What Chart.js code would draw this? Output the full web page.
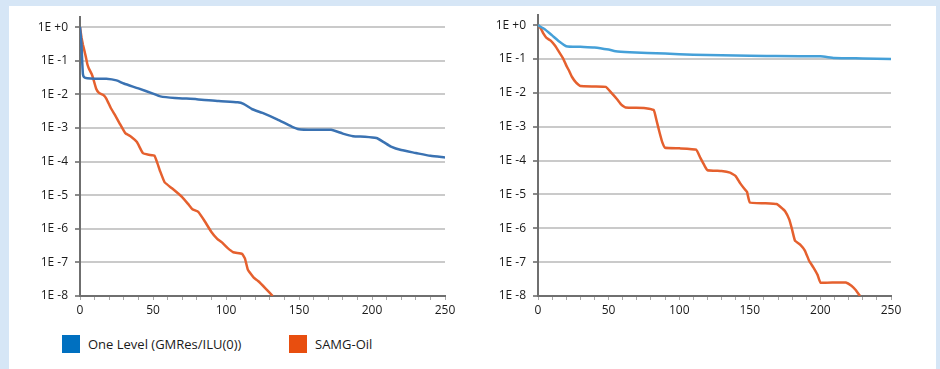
<!DOCTYPE html>
<html>
<head>
<meta charset="utf-8">
<script src="https://cdn.jsdelivr.net/npm/chart.js@4/dist/chart.umd.min.js"></script>
<style>
  html,body{margin:0;padding:0;}
  body{width:940px;height:369px;background:#d6e6f6;position:relative;overflow:hidden;font-family:"Open Sans","Noto Sans",sans-serif;}
  #panel{position:absolute;left:9px;top:6px;width:927px;height:363px;background:#ffffff;}
  #c1wrap{position:absolute;left:0;top:0;width:460px;height:321px;}
  #c2wrap{position:absolute;left:460px;top:0;width:446px;height:321px;}
  .leg{position:absolute;top:335px;height:18px;display:flex;align-items:center;font-size:13px;color:#1a1a1a;}
  .sw{width:18px;height:18px;margin-right:8px;}
</style>
</head>
<body>
<div id="panel"></div>
<div id="c1wrap"><canvas id="c1"></canvas></div>
<div id="c2wrap"><canvas id="c2"></canvas></div>
<div class="leg" style="left:62px;"><div class="sw" style="background:#0070c0"></div><span id="l1"></span></div>
<div class="leg" style="left:289px;"><div class="sw" style="background:#e84e0f"></div><span id="l2"></span></div>
<script>
// ---- data ----
const seriesNames = ['One Level (GMRes/ILU(0))', 'SAMG-Oil'];
const yTickValues = [1e-8, 1e-7, 1e-6, 1e-5, 1e-4, 1e-3, 1e-2, 1e-1, 1];
const yTickLabels = ['1E -8', '1E -7', '1E -6', '1E -5', '1E -4', '1E -3', '1E -2', '1E -1', '1E +0'];
const xTickLabels = ['0', '50', '100', '150', '200', '250'];

// left chart
const leftBlueX = [0,1,2,3,5,10,18,25,30,40,50,55,65,80,95,108,112,118,125,135,145,150,160,172,180,187,195,203,208,213,220,230,240,250];
const leftBlueY = [1.0,0.3,0.04,0.032,0.03,0.029,0.029,0.026,0.021,0.015,0.0105,0.0087,0.0078,0.0072,0.0063,0.0058,0.0052,0.0036,0.0028,0.0018,0.0011,0.00092,0.00088,0.00088,0.00068,0.00057,0.00055,0.0005,0.00038,0.00028,0.00022,0.00018,0.000148,0.000133];
const leftOrangeX = [0,1,2,3,4,5,6,8,9,11,13,16,18,21,24,27,31,35,39,43,47,51,53,55,58,63,70,74,77,81,85,90,94,97,101,105,111,113,115,119,122,127,132];
const leftOrangeY = [1.0,0.5,0.3,0.2,0.13,0.08,0.06,0.04,0.03,0.015,0.011,0.0095,0.0075,0.004,0.0024,0.0014,0.0007,0.00055,0.00038,0.00018,0.00016,0.00015,0.00009,0.00005,0.000024,0.000016,0.0000088,0.0000055,0.0000038,0.0000032,0.0000018,0.0000008,0.0000005,0.0000004,0.00000027,0.0000002,0.00000018,0.00000013,0.00000006,0.000000035,0.000000028,0.000000017,0.00000001];

// right chart
const rightBlueX = [0,5,10,15,20,30,40,50,55,65,90,110,150,200,210,230,250];
const rightBlueY = [1.0,0.75,0.5,0.33,0.24,0.23,0.22,0.19,0.17,0.16,0.145,0.135,0.125,0.12,0.108,0.104,0.1];
const rightOrangeX = [0,2,4,6,9,12,15,18,20,22,24,27,30,40,48,52,56,59,62,75,82,84,86,88,90,100,112,115,118,120,130,136,140,143,146,148,150,160,169,172,175,178,180,182,186,189,192,195,198,200,210,218,222,225,228];
const rightOrangeY = [1.0,0.8,0.55,0.42,0.35,0.25,0.16,0.1,0.065,0.045,0.03,0.02,0.016,0.0155,0.015,0.01,0.0065,0.0045,0.0037,0.0036,0.0031,0.0015,0.0007,0.00035,0.00024,0.00023,0.00021,0.00012,0.00007,0.000052,0.000049,0.000044,0.000035,0.000022,0.000015,0.000012,0.0000058,0.0000055,0.0000052,0.0000042,0.0000032,0.0000018,0.0000009,0.00000043,0.00000032,0.00000022,0.00000011,0.00000007,0.000000042,0.000000025,0.000000025,0.000000025,0.00000002,0.000000015,0.00000001];

document.getElementById('l1').textContent = seriesNames[0];
document.getElementById('l2').textContent = seriesNames[1];

function pts(xs, ys){ return xs.map((x,i)=>({x:x, y:ys[i]})); }

const FONT = {family:'"Open Sans","Noto Sans",sans-serif', size:12};
function makeChart(id, blueX, blueY, orX, orY, blueColor, yWidth, padTop){
  return new Chart(document.getElementById(id), {
    type:'line',
    data:{datasets:[
      {label:seriesNames[0], data:pts(blueX,blueY), borderColor:blueColor, borderWidth:2.5, pointRadius:0, tension:0.2, fill:false},
      {label:seriesNames[1], data:pts(orX,orY), borderColor:'#e5602e', borderWidth:2.5, pointRadius:0, tension:0.1, fill:false}
    ]},
    options:{
      responsive:true, maintainAspectRatio:false, animation:false,
      layout:{padding:{top:padTop, right:15, left:0, bottom:0}},
      plugins:{legend:{display:false}, tooltip:{enabled:false}},
      scales:{
        x:{type:'linear', min:0, max:250,
           border:{color:'#6f6f6f', width:2},
           grid:{drawOnChartArea:false, drawTicks:true, tickLength:4, color:'#a8a8a8', lineWidth:1},
           ticks:{stepSize:10, autoSkip:false, maxRotation:0, padding:3, color:'#1a1a1a', font:FONT,
             callback:(v)=>{ const i = xTickLabels.indexOf(String(v)); return i>=0 ? xTickLabels[i] : ''; }},
           afterFit:(s)=>{ s.height = 25; }
        },
        y:{type:'logarithmic', min:1e-8, max:2,
           border:{color:'#6f6f6f', width:2},
           grid:{color:'#cacaca', lineWidth:2, tickLength:5, tickColor:'#8a8a8a'},
           afterBuildTicks:(s)=>{ s.ticks = yTickValues.map(v=>({value:v})); },
           ticks:{padding:7, color:'#1a1a1a', font:FONT,
             callback:(v)=>{ const i = yTickValues.findIndex(t=>Math.abs(Math.log10(t)-Math.log10(v))<1e-6); return i>=0 ? yTickLabels[i] : ''; }},
           afterFit:(s)=>{ s.width = yWidth; }
        }
      }
    }
  });
}
makeChart('c1', leftBlueX, leftBlueY, leftOrangeX, leftOrangeY, '#3a72b2', 80, 17);
makeChart('c2', rightBlueX, rightBlueY, rightOrangeX, rightOrangeY, '#45a0d8', 78, 15);
</script>
</body>
</html>
